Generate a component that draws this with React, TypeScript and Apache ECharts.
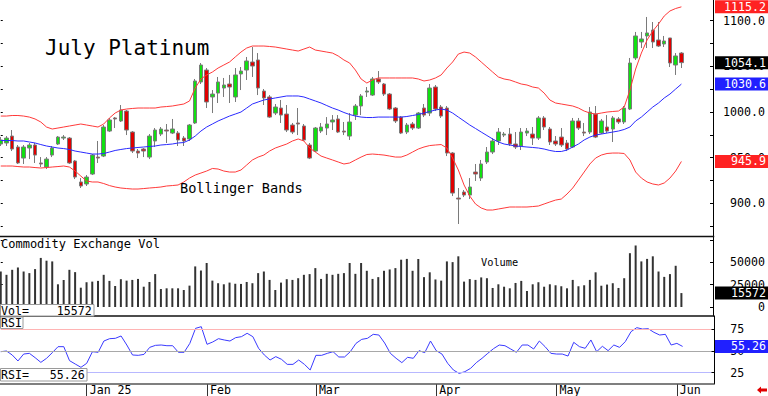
import React, { useEffect, useRef } from "react";
import * as echarts from "echarts";

// ---------- data ----------
const opens = [
  965.0, 966.1, 973.7, 961.7, 949.6, 960.6, 963.9, 944.2, 939.8, 952.9,
  965.0, 971.5, 971.5, 946.4, 923.4, 921.2, 932.1, 950.7, 951.8, 979.2,
  993.5, 990.2, 1001.1, 978.1, 957.3, 959.5, 950.7, 968.3, 975.9, 980.3,
  977.0, 977.0, 971.5, 970.5, 988.0, 1032.9, 1046.0, 1016.5, 1020.8, 1026.3,
  1030.7, 1016.5, 1041.7, 1046.0, 1054.8, 1057.0, 1023.0, 1016.5, 998.9, 1004.4,
  997.8, 985.8, 988.0, 984.7, 963.9, 957.3, 979.2, 982.5, 989.1, 992.4,
  979.2, 973.7, 996.7, 1006.6, 1021.9, 1018.6, 1036.2, 1030.7, 1019.7, 1004.4,
  994.5, 978.1, 986.9, 982.5, 1004.4, 998.9, 1027.4, 1005.5, 1004.4, 955.1,
  905.8, 912.4, 909.1, 934.3, 927.7, 945.3, 956.2, 968.3, 974.8, 975.9,
  965.0, 962.8, 977.0, 975.9, 971.5, 993.5, 981.4, 968.3, 972.6, 966.1,
  961.7, 990.2, 978.1, 978.1, 997.8, 977.0, 983.6, 981.4, 992.4, 989.1,
  1003.3, 1059.2, 1076.7, 1083.3, 1089.8, 1078.9, 1074.5, 1081.1, 1051.5, 1064.6,
];
const closes = [
  969.4, 971.5, 959.5, 944.2, 961.7, 963.9, 952.9, 943.1, 948.5, 960.6,
  972.6, 972.6, 944.2, 928.8, 919.0, 928.8, 952.9, 949.6, 983.6, 991.3,
  992.4, 1002.2, 980.3, 957.3, 955.1, 957.3, 973.7, 980.3, 981.4, 979.2,
  981.4, 969.4, 968.3, 985.8, 1034.0, 1051.5, 1011.0, 1019.7, 1032.9, 1029.6,
  1027.4, 1040.6, 1044.9, 1055.9, 1050.4, 1026.3, 1015.4, 994.5, 1005.5, 996.7,
  980.3, 978.1, 986.9, 969.4, 949.6, 982.5, 983.6, 986.9, 991.3, 978.1,
  978.1, 989.1, 1006.6, 1017.6, 1023.0, 1036.2, 1032.9, 1019.7, 1003.3, 990.2,
  977.0, 985.8, 982.5, 998.9, 996.7, 1026.3, 1003.3, 995.6, 955.1, 911.3,
  904.7, 909.1, 917.9, 932.1, 943.1, 956.2, 968.3, 978.1, 975.9, 965.0,
  961.7, 978.1, 979.2, 971.5, 993.5, 983.6, 967.2, 965.0, 963.9, 959.5,
  990.2, 982.5, 977.0, 1000.0, 972.6, 990.2, 979.2, 993.5, 989.1, 1004.4,
  1053.7, 1083.3, 1080.0, 1086.6, 1076.7, 1072.3, 1077.8, 1053.7, 1061.4, 1054.1,
];
const lows = [
  962.8, 962.8, 957.3, 943.1, 943.1, 948.5, 944.2, 939.8, 937.6, 950.7,
  963.9, 969.4, 943.1, 926.6, 916.8, 919.0, 931.0, 944.2, 950.7, 978.1,
  982.5, 989.1, 974.8, 955.1, 949.6, 950.7, 948.5, 961.7, 973.7, 966.1,
  975.9, 962.8, 962.8, 968.3, 986.9, 1030.7, 1004.4, 998.9, 1009.9, 1016.5,
  1009.9, 1011.0, 1024.1, 1035.1, 1038.4, 1018.6, 1007.7, 993.5, 996.7, 988.0,
  978.1, 975.9, 974.8, 968.3, 948.5, 956.2, 977.0, 974.8, 980.3, 977.0,
  974.8, 969.4, 991.3, 996.7, 1016.5, 1017.6, 1030.7, 1017.6, 1002.2, 988.0,
  975.9, 975.9, 980.3, 981.4, 994.5, 995.6, 1001.1, 993.5, 951.8, 908.0,
  877.4, 906.9, 904.7, 924.5, 924.5, 943.1, 954.0, 963.9, 972.6, 962.8,
  959.5, 958.4, 973.7, 963.9, 969.4, 980.3, 963.9, 962.8, 961.7, 957.3,
  960.6, 980.3, 973.7, 975.9, 971.5, 975.9, 977.0, 967.2, 986.9, 986.9,
  1002.2, 1057.0, 1070.1, 1070.1, 1070.1, 1071.2, 1071.2, 1049.3, 1040.6, 1048.2,
];
const highs = [
  972.6, 973.7, 980.3, 963.9, 963.9, 966.1, 966.1, 950.7, 950.7, 962.8,
  973.7, 974.8, 972.6, 947.5, 927.7, 931.0, 954.0, 968.3, 985.8, 993.5,
  994.5, 1007.7, 1002.2, 979.2, 959.5, 960.6, 975.9, 982.5, 983.6, 986.9,
  992.4, 979.2, 973.7, 986.9, 1036.2, 1053.7, 1048.2, 1024.1, 1038.4, 1037.3,
  1040.6, 1048.2, 1049.3, 1060.3, 1071.2, 1064.6, 1025.2, 1018.6, 1008.8, 1013.2,
  1007.7, 988.0, 1004.4, 986.9, 966.1, 983.6, 988.0, 994.5, 996.7, 996.7,
  989.1, 998.9, 1008.8, 1019.7, 1027.4, 1038.4, 1044.9, 1031.8, 1020.8, 1005.5,
  995.6, 988.0, 989.1, 1000.0, 1008.8, 1030.7, 1029.6, 1007.7, 1006.6, 956.2,
  916.8, 914.6, 927.7, 943.1, 947.5, 961.7, 971.5, 982.5, 978.1, 982.5,
  978.1, 982.5, 982.5, 983.6, 995.6, 995.6, 983.6, 973.7, 982.5, 969.4,
  993.5, 993.5, 988.0, 1005.5, 1006.6, 992.4, 996.7, 995.6, 994.5, 1006.6,
  1059.2, 1087.7, 1087.7, 1104.1, 1098.6, 1098.6, 1083.3, 1081.1, 1064.6, 1065.7,
];
const upperBand = [
  995.6, 995.6, 996.2, 996.2, 995.6, 994.5, 992.4, 989.1, 983.6, 981.4,
  982.5, 983.6, 984.7, 985.8, 986.9, 985.8, 984.7, 983.6, 986.9, 993.5,
  998.9, 1002.2, 1003.3, 1003.9, 1004.4, 1004.4, 1004.4, 1004.4, 1005.5, 1006.0,
  1006.6, 1007.7, 1008.8, 1012.1, 1026.3, 1036.2, 1040.6, 1043.8, 1048.2, 1051.5,
  1054.8, 1060.3, 1065.7, 1070.1, 1072.3, 1072.3, 1072.3, 1071.8, 1071.2, 1070.1,
  1069.0, 1067.9, 1066.8, 1069.0, 1071.2, 1067.9, 1066.8, 1065.7, 1064.6, 1061.4,
  1057.0, 1053.7, 1046.0, 1036.2, 1031.8, 1035.1, 1037.3, 1037.3, 1037.3, 1037.3,
  1037.3, 1037.3, 1037.3, 1036.2, 1034.0, 1035.1, 1037.3, 1040.6, 1048.2, 1054.8,
  1063.5, 1065.7, 1064.6, 1060.3, 1054.8, 1049.3, 1043.8, 1038.4, 1036.2, 1035.1,
  1032.9, 1030.7, 1029.6, 1027.4, 1026.3, 1020.8, 1013.2, 1009.9, 1008.8, 1007.7,
  1006.6, 1004.4, 1001.1, 998.9, 997.8, 998.9, 1000.0, 1000.6, 1001.1, 1005.5,
  1024.1, 1047.1, 1064.6, 1078.9, 1088.7, 1096.4, 1105.2, 1110.7, 1113.4, 1115.2,
];
const middleBand = [
  968.8, 968.8, 968.8, 968.3, 968.3, 967.2, 966.1, 964.4, 962.8, 961.7,
  960.6, 960.0, 959.0, 957.3, 956.2, 955.1, 954.0, 954.0, 954.6, 956.2,
  957.9, 959.0, 960.0, 960.6, 961.2, 961.7, 962.3, 962.8, 963.9, 964.4,
  965.0, 966.1, 966.6, 969.4, 973.7, 979.2, 983.6, 986.9, 990.2, 992.9,
  995.6, 997.8, 1000.0, 1004.4, 1008.8, 1011.0, 1013.2, 1014.3, 1015.4, 1016.5,
  1017.6, 1017.6, 1017.6, 1016.5, 1014.3, 1012.1, 1009.9, 1007.1, 1004.4, 1002.2,
  999.5, 997.3, 995.6, 994.5, 994.0, 994.0, 994.5, 994.5, 994.5, 994.5,
  994.5, 995.1, 996.2, 997.3, 998.9, 1000.6, 1002.2, 1003.3, 1002.2, 998.9,
  994.5, 990.2, 985.8, 982.0, 978.1, 974.3, 970.5, 967.2, 965.0, 963.9,
  962.8, 962.3, 961.7, 961.2, 960.6, 959.5, 957.9, 956.8, 956.8, 958.4,
  961.7, 965.0, 969.4, 972.6, 974.8, 975.9, 977.0, 978.1, 979.2, 980.9,
  983.6, 990.2, 994.5, 1000.0, 1005.5, 1009.9, 1015.4, 1019.7, 1025.2, 1030.6,
];
const lowerBand = [
  940.9, 940.9, 940.9, 940.3, 939.8, 939.8, 939.2, 938.7, 939.2, 939.8,
  940.3, 940.9, 939.8, 935.4, 929.9, 924.5, 923.4, 923.4, 921.7, 919.5,
  917.9, 916.8, 916.2, 915.7, 915.7, 916.2, 916.8, 917.3, 917.9, 919.0,
  919.5, 920.1, 923.4, 927.7, 931.0, 933.2, 935.4, 938.2, 937.6, 935.4,
  934.3, 934.3, 936.5, 942.0, 947.5, 950.7, 952.9, 957.3, 960.6, 962.8,
  965.0, 968.3, 970.5, 968.3, 960.6, 956.2, 951.8, 949.6, 947.5, 945.3,
  943.1, 944.2, 947.5, 950.7, 953.5, 954.0, 953.5, 952.9, 951.8, 950.7,
  950.7, 952.9, 956.2, 959.5, 961.7, 963.3, 963.9, 964.4, 960.6, 949.6,
  936.5, 920.1, 908.0, 899.3, 894.9, 892.7, 892.7, 893.8, 894.9, 896.0,
  896.0, 896.0, 896.0, 896.5, 897.1, 899.3, 901.5, 903.6, 904.7, 910.2,
  916.8, 925.5, 934.3, 943.1, 949.6, 952.9, 954.6, 955.1, 955.1, 954.6,
  947.5, 934.3, 927.7, 923.4, 921.2, 920.1, 922.3, 927.7, 935.4, 945.9,
];
const volumes = [
  39700, 36000, 41600, 44200, 39700, 37900, 42400, 54900, 51800, 51000,
  25400, 30300, 41600, 39000, 21600, 27700, 28400, 29200, 36000, 29200,
  23500, 31100, 29500, 30300, 31400, 22700, 28000, 36800, 20100, 20900,
  20900, 20900, 19000, 23900, 45400, 40800, 49200, 29500, 26600, 25400,
  27300, 26000, 25800, 28000, 26600, 37900, 39700, 30300, 19000, 27300,
  31100, 30300, 32200, 36000, 36800, 43500, 31400, 37100, 36000, 37100,
  37900, 49200, 37100, 49200, 40500, 31400, 33400, 40500, 42000, 43500,
  52900, 53800, 40500, 53700, 33400, 38800, 30800, 29500, 51000, 50200,
  56700, 28400, 31200, 30300, 33100, 32200, 21300, 25400, 22700, 20900,
  26900, 29200, 17900, 25400, 27700, 22700, 25400, 24300, 23200, 20900,
  30300, 23200, 24300, 30300, 38800, 23800, 25100, 26600, 21300, 32200,
  60200, 68800, 51000, 53800, 56700, 39700, 33700, 36800, 46100, 15572,
];
const rsiValues = [
  49.2, 50.0, 45.4, 38.5, 46.5, 47.3, 42.3, 36.9, 41.6, 48.1,
  55.0, 55.0, 38.9, 35.0, 31.2, 35.8, 49.2, 48.5, 61.5, 64.2,
  64.6, 67.3, 56.9, 45.4, 45.0, 46.1, 54.2, 56.5, 56.9, 56.1,
  56.1, 48.5, 48.5, 58.8, 76.1, 78.0, 57.7, 60.4, 64.2, 62.7,
  61.5, 65.4, 66.5, 70.4, 66.5, 53.1, 45.4, 39.6, 43.5, 40.4,
  34.6, 34.6, 39.6, 34.6, 28.1, 45.0, 45.0, 47.3, 49.2, 43.1,
  43.1, 49.2, 58.8, 63.4, 64.6, 69.2, 68.4, 59.2, 47.3, 41.6,
  36.6, 42.7, 41.6, 50.4, 48.1, 61.5, 50.4, 46.5, 35.8, 28.1,
  24.2, 26.2, 30.0, 36.6, 41.6, 47.3, 52.7, 56.9, 56.1, 52.3,
  48.5, 56.9, 56.9, 52.3, 61.5, 55.0, 47.3, 46.5, 46.5, 44.2,
  60.0, 55.0, 53.1, 62.7, 49.2, 55.4, 50.4, 56.9, 54.2, 60.8,
  72.3, 76.9, 75.3, 75.7, 71.5, 68.4, 69.2, 56.9, 58.8, 55.26,
];
const monthTickIndex = [15, 36, 55, 76, 97, 118];
const monthTickLabels = ["Jan 25", "Feb", "Mar", "Apr", "May", "Jun"];
const priceLabels = [900, 950, 1000, 1050, 1100];
const priceTicks = [875, 900, 925, 950, 975, 1000, 1025, 1050, 1075, 1100];
const volumeLabels = [0, 25000, 50000];
const volumeTicks = [0, 25000, 50000, 75000];
const rsiLabels = [25, 50, 75];
const rsiLevels = [75, 50, 25];
const emptySlots = 5;

const MONO = '"DejaVu Sans Mono", monospace';
const AX_FONT = '11.6px "DejaVu Sans Mono", monospace';

export default function App() {
  const ref = useRef<HTMLDivElement>(null);

  useEffect(() => {
    const el = ref.current;
    if (!el) return;
    const chart = echarts.init(el, null, { renderer: "svg" });

    const n = closes.length;
    const categories = Array.from({ length: n + emptySlots }, (_, i) => String(i));
    const candleData = opens.map((o, i) => [o, closes[i], lows[i], highs[i]]);

    const GL = 0.75;
    const GW = 710.5;
    const grids = [
      { left: GL, top: 0, width: GW, height: 236.5 },
      { left: GL, top: 236.5, width: GW, height: 79.5 },
      { left: GL, top: 316, width: GW, height: 68 },
    ];

    const isMonth = (idx: number) => monthTickIndex.indexOf(idx) >= 0;

    const makeX = (gridIndex: number, withTicks: boolean) => ({
      type: "category",
      gridIndex,
      data: categories,
      boundaryGap: false,
      axisLine: { show: false },
      axisTick: withTicks
        ? { show: true, interval: (idx: number) => isMonth(idx), length: 12, lineStyle: { color: "#333", width: 1 } }
        : { show: false },
      axisLabel: withTicks
        ? {
            show: true,
            interval: (idx: number) => isMonth(idx),
            formatter: (_v: string, idx: number) => {
              const k = monthTickIndex.indexOf(idx);
              return k >= 0 ? monthTickLabels[k] : "";
            },
            align: "left",
            margin: 0,
            padding: [0, 0, 0, 3],
            fontFamily: MONO,
            fontSize: 11.6,
            color: "#000",
          }
        : { show: false },
      splitLine: { show: false },
    });

    const rightAxis = (
      gridIndex: number, min: number, max: number,
      labels: number[], ticks: number[], margin: number, fmt: (v: number) => string
    ) => ({
      type: "value",
      gridIndex,
      position: "right",
      offset: 3,
      min,
      max,
      axisLine: { show: true, lineStyle: { color: "#000", width: 1 } },
      axisTick: { show: true, inside: true, length: 3, customValues: ticks, lineStyle: { color: "#000" } },
      axisLabel: {
        show: true,
        customValues: labels,
        formatter: fmt,
        align: "right",
        margin,
        fontFamily: MONO,
        fontSize: 11.6,
        color: "#000",
      },
      splitLine: { show: false },
    });

    const leftTicks = (gridIndex: number, min: number, max: number, ticks: number[]) => ({
      type: "value",
      gridIndex,
      position: "left",
      min,
      max,
      axisLine: { show: false },
      axisTick: { show: true, inside: true, length: 2, customValues: ticks, lineStyle: { color: "#000" } },
      axisLabel: { show: false },
      splitLine: { show: false },
    });

    const P_MIN = 863.7, P_MAX = 1122.7;
    const V_MIN = -10067, V_MAX = 78859;
    const R_MIN = 11.98, R_MAX = 90.32;

    const option: any = {
      animation: false,
      backgroundColor: "#fff",
      textStyle: { fontFamily: MONO },
      grid: grids,
      xAxis: [makeX(0, false), makeX(1, false), makeX(2, true)],
      yAxis: [
        rightAxis(0, P_MIN, P_MAX, priceLabels, priceTicks, 52, (v) => v.toFixed(1)),
        rightAxis(1, V_MIN, V_MAX, volumeLabels, volumeTicks, 52, (v) => String(v)),
        rightAxis(2, R_MIN, R_MAX, rsiLabels, rsiLabels, 30, (v) => String(v)),
        leftTicks(0, P_MIN, P_MAX, priceTicks),
        leftTicks(1, V_MIN, V_MAX, volumeTicks),
      ],
      series: [
        {
          type: "candlestick",
          xAxisIndex: 0,
          yAxisIndex: 0,
          data: candleData,
          barWidth: 4,
          itemStyle: {
            color: "#10e010",
            color0: "#e00000",
            borderColor: "#7a7a7a",
            borderColor0: "#7a7a7a",
            borderWidth: 1,
          },
        },
        { type: "line", xAxisIndex: 0, yAxisIndex: 0, data: upperBand, showSymbol: false, symbol: "none", lineStyle: { color: "#ff3a3a", width: 1 } },
        { type: "line", xAxisIndex: 0, yAxisIndex: 0, data: middleBand, showSymbol: false, symbol: "none", lineStyle: { color: "#2a2aff", width: 1 } },
        { type: "line", xAxisIndex: 0, yAxisIndex: 0, data: lowerBand, showSymbol: false, symbol: "none", lineStyle: { color: "#ff3a3a", width: 1 } },
        {
          type: "bar",
          xAxisIndex: 1,
          yAxisIndex: 1,
          data: volumes,
          barWidth: 2,
          itemStyle: { color: "#333" },
        },
        {
          type: "line",
          xAxisIndex: 2,
          yAxisIndex: 2,
          data: rsiValues,
          showSymbol: false,
          symbol: "none",
          lineStyle: { color: "#3a3aff", width: 1 },
          z: 3,
          markLine: {
            silent: true,
            symbol: "none",
            label: { show: false },
            data: [
              { yAxis: rsiLevels[0], lineStyle: { color: "#ffb4b4", width: 1, type: "solid" } },
              { yAxis: rsiLevels[1], lineStyle: { color: "#a8a8a8", width: 1, type: "solid" } },
              { yAxis: rsiLevels[2], lineStyle: { color: "#b8b8ff", width: 1, type: "solid" } },
            ],
          },
        },
      ],
    };

    chart.setOption(option);

    const last = n - 1;
    const py = (axis: number, v: number) => chart.convertToPixel({ yAxisIndex: axis } as any, v) as number;

    const tag = (y: number, text: string, fill: string) => [
      { type: "rect", z: 100, shape: { x: 715, y: y - 6.5, width: 53, height: 13 }, style: { fill } },
      {
        type: "text", z: 101, x: 766, y,
        style: { text, fill: "#fff", font: AX_FONT, textAlign: "right", textVerticalAlign: "middle", align: "right", verticalAlign: "middle" },
      },
    ];
    const label = (x: number, y: number, text: string, font: string, fill = "#000") => ({
      type: "text", z: 60, x, y,
      style: { text, fill, font, textAlign: "left", textVerticalAlign: "middle", align: "left", verticalAlign: "middle" },
    });
    const box = (x: number, y: number, w: number, h: number) => ({
      type: "rect", z: 55, shape: { x, y, width: w, height: h }, style: { fill: "#fff", stroke: "#9a9a9a", lineWidth: 1 },
    });
    const hline = (y: number, color: string, w: number) => ({
      type: "line", z: 50, shape: { x1: 0, y1: y, x2: 714.25, y2: y }, style: { stroke: color, lineWidth: w },
    });

    const graphics: any[] = [
      hline(236.5, "#111", 1.6),
      hline(316, "#111", 1.6),
      hline(384, "#555", 1.3),
      label(45, 48, "July Platinum", '21px "DejaVu Sans Mono", monospace'),
      label(180, 187.5, "Bollinger Bands", '13.6px "DejaVu Sans Mono", monospace'),
      label(1, 244, "Commodity Exchange Vol", '12px "DejaVu Sans Mono", monospace'),
      label(481, 262, "Volume", '10.3px "DejaVu Sans Mono", monospace'),
      box(0.5, 304.5, 93.5, 11.5),
      label(1, 310.5, "Vol=    " + String(volumes[last]), AX_FONT),
      box(0.5, 317, 22.5, 11.5),
      label(1, 323, "RSI", AX_FONT),
      box(0.5, 368.5, 86.5, 12.5),
      label(1, 375, "RSI=   " + rsiValues[last].toFixed(2), AX_FONT),
      ...tag(py(0, upperBand[last]), upperBand[last].toFixed(1), "#ff2222"),
      ...tag(py(0, closes[last]), closes[last].toFixed(1), "#000"),
      ...tag(py(0, middleBand[last]), middleBand[last].toFixed(1), "#2020ff"),
      ...tag(py(0, lowerBand[last]), lowerBand[last].toFixed(1), "#ff2222"),
      ...tag(py(1, volumes[last]), String(volumes[last]), "#000"),
      ...tag(py(2, rsiValues[last]), rsiValues[last].toFixed(2), "#2020ff"),
      {
        type: "polygon", z: 60,
        shape: { points: [[757, 390], [761, 386.5], [761, 388.5], [767, 388.5], [767, 391.5], [761, 391.5], [761, 393.5]] },
        style: { fill: "#e00000" },
      },
    ];

    chart.setOption({ graphic: graphics });

    return () => chart.dispose();
  }, []);

  return (
    <div
      ref={ref}
      style={{ position: "absolute", left: 0, top: 0, width: 768, height: 396, background: "#fff" }}
    />
  );
}
